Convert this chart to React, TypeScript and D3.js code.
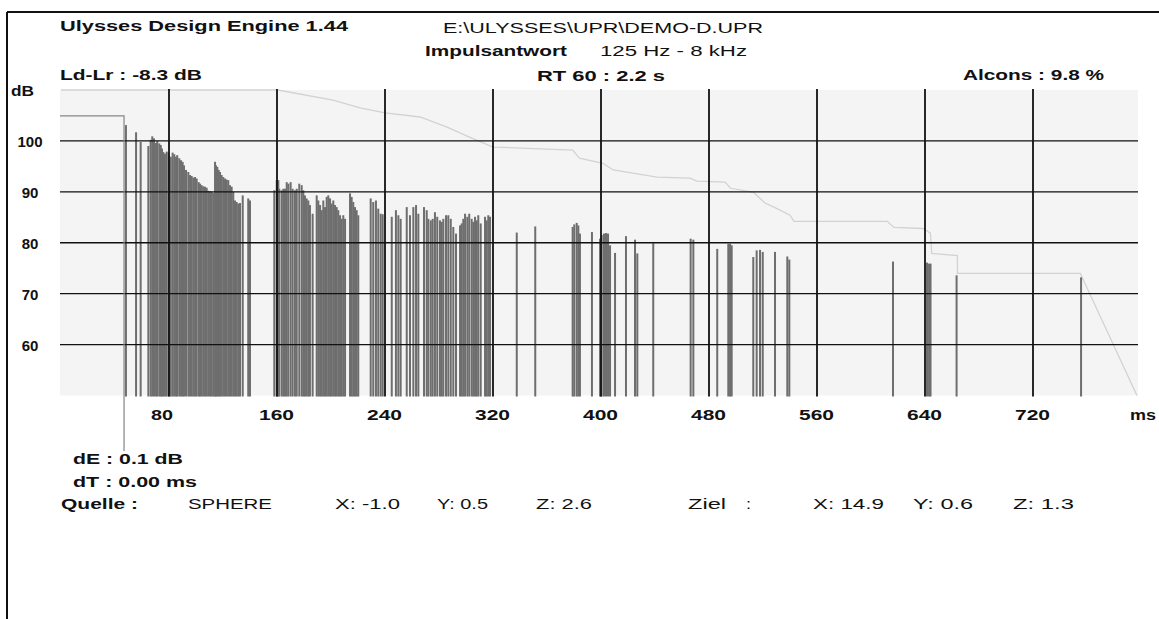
import React from 'react';
import * as d3 from 'd3';

// reflections, [time ms, level dB]
const directSound: [number, number][] = [[48.1, 103.1], [55.6, 101.7], [59.0, 99.8]];

const firstCluster: [number, number][] = [
  [64.7, 99.0], [66.4, 100.2], [67.6, 100.9], [68.9, 100.5], [70.4, 99.6], [71.3, 100.0],
  [72.8, 99.5], [73.9, 99.2], [74.8, 98.5], [75.8, 97.8], [77.0, 97.5], [78.3, 97.9],
  [79.8, 97.7], [81.3, 96.9], [82.7, 97.7], [83.9, 97.4], [85.2, 96.9], [86.1, 97.2],
  [87.6, 96.6], [88.9, 96.2], [90.1, 95.9], [91.1, 95.2], [92.6, 94.3], [94.3, 93.9],
  [95.6, 93.3], [96.8, 93.1], [98.0, 92.8], [99.3, 92.9], [100.5, 92.6], [102.0, 91.9],
  [103.0, 91.6], [104.2, 91.3], [105.4, 91.1], [106.7, 91.0], [107.9, 90.8], [109.1, 90.2],
  [110.4, 90.1], [111.6, 90.0], [112.8, 89.8], [114.1, 95.9], [114.8, 95.2], [115.8, 94.9],
  [116.8, 94.3], [117.8, 93.9], [119.0, 93.3], [120.2, 92.9], [121.5, 92.6], [122.7, 92.4],
  [123.9, 92.3], [125.2, 91.3], [126.4, 91.0], [127.6, 90.0], [128.9, 88.3], [130.1, 88.0],
  [131.3, 87.7], [132.6, 87.8], [134.6, 89.3], [138.7, 88.7], [140.0, 88.3],
];

const secondCluster: [number, number][] = [
  [158.0, 90.3], [159.8, 92.3], [161.0, 92.3], [161.7, 90.6], [163.5, 90.3], [164.7, 90.6],
  [165.9, 90.6], [167.2, 91.9], [168.4, 91.6], [170.1, 91.9], [171.6, 90.6], [173.3, 90.3],
  [174.6, 90.6], [176.5, 91.6], [178.3, 91.3], [179.5, 90.3], [180.7, 89.3], [182.0, 88.7],
  [183.2, 88.3], [184.4, 87.4], [186.4, 85.7], [189.4, 89.3], [190.6, 88.3], [191.9, 87.4],
  [193.1, 86.4], [194.3, 88.3], [195.6, 87.0], [196.8, 89.0], [198.0, 89.3], [199.3, 88.7],
  [200.5, 87.7], [201.7, 88.3], [203.0, 87.4], [204.2, 87.0], [205.4, 86.4], [206.7, 85.4],
  [207.9, 84.7], [209.1, 85.4], [210.4, 84.7], [214.1, 89.7], [215.3, 89.0], [216.5, 88.0],
  [217.8, 87.0], [219.0, 86.4], [220.2, 85.4],
];

const thirdCluster: [number, number][] = [
  [229.4, 88.7], [231.3, 88.0], [233.3, 88.3], [235.0, 86.7], [236.8, 85.7], [238.3, 85.6],
  [245.0, 85.1], [248.1, 86.4], [249.9, 85.4], [251.6, 84.7], [256.1, 87.0], [258.5, 85.4],
  [261.0, 87.0], [263.0, 87.4], [264.7, 85.7], [268.9, 87.0], [270.9, 86.4], [272.1, 84.7],
  [273.9, 84.4], [275.3, 84.7], [277.0, 86.0], [278.7, 85.1], [280.7, 84.4], [282.0, 84.1],
  [283.2, 84.7], [285.2, 85.4], [286.9, 85.4], [288.7, 84.7], [290.6, 83.1], [292.6, 81.8],
  [295.6, 83.4], [296.8, 83.8], [298.0, 84.7], [299.3, 85.7], [301.0, 85.1], [302.4, 85.7],
  [304.2, 84.7], [305.4, 84.1], [306.7, 85.1], [307.9, 84.4], [309.1, 85.4], [310.9, 83.8],
  [314.1, 85.1], [315.3, 84.4], [316.5, 85.4], [317.8, 85.1],
];

const lateReflections: [number, number][] = [
  [337.6, 82.0], [351.3, 83.2], [379.0, 83.1], [380.2, 83.6], [382.0, 83.9], [383.2, 83.4],
  [384.4, 81.8], [393.3, 82.1], [399.3, 80.8], [400.5, 81.5], [402.2, 81.8], [403.7, 81.9],
  [405.2, 81.8], [406.7, 79.5], [410.4, 78.0], [418.5, 81.3], [425.2, 80.6], [426.9, 77.9],
  [438.7, 79.9], [466.4, 80.8], [468.4, 80.6], [486.1, 78.8], [494.3, 79.8], [495.6, 79.8],
  [496.8, 79.5], [512.8, 77.2], [515.3, 78.5], [517.8, 78.6], [519.8, 78.2], [528.9, 78.2],
  [538.0, 77.3], [539.5, 76.7], [616.3, 76.3], [641.5, 76.1], [643.0, 75.9], [644.1, 75.9],
  [663.4, 73.6], [755.6, 73.2],
];

// integrated decay curve
const decayCurve: [number, number][] = [
  [0, 110], [160.7, 110], [201.5, 108], [221.5, 106.5], [240, 105.5], [266, 104.7],
  [286, 102.7], [303, 100.7], [320, 98.8], [379, 98.2], [384, 96.6], [401.5, 95.6],
  [409, 94.3], [441.5, 92.9], [466, 92.7], [471, 92.1], [492, 91.9], [496, 90.7],
  [513, 89.9], [521.5, 87.8], [529.6, 86.8], [540, 85.4], [543, 84.2], [612, 84.2],
  [617, 83.0], [638.5, 82.8], [644, 81.9], [645, 77.9], [664, 77.5], [664, 74.0],
  [755, 74.0], [797, 50],
];

const cursorMs = 46.7;
const cursorDb = 104.9;

const xTicks = [80, 160, 240, 320, 400, 480, 560, 640, 720];
const yTicks = [100, 90, 80, 70, 60];

const W = 1159;
const H = 619;
const font = '"Liberation Sans", Arial, sans-serif';

const x = d3.scaleLinear().domain([0, 800]).range([61, 1141]);
const y = d3.scaleLinear().domain([50, 110]).range([395.5, 90]);

const T: React.FC<{ x: number; y: number; w: number; bold?: boolean; children: string }> = ({ x, y, w, bold = true, children }) => (
  <text x={x} y={y} textLength={w} lengthAdjust="spacingAndGlyphs" fontFamily={font}
    fontSize={15} fontWeight={bold ? 'bold' : 'normal'} fill="#111">{children}</text>
);

const App: React.FC = () => {
  const bars = [...directSound, ...firstCluster, ...secondCluster, ...thirdCluster, ...lateReflections];
  const decay = d3.line<[number, number]>().x(d => x(d[0])).y(d => y(d[1]))(decayCurve) ?? '';
  const plotL = 60, plotR = 1138, plotT = y(110), plotB = y(50);

  return (
    <svg width={W} height={H} style={{ position: 'fixed', left: 0, top: 0, background: '#fff' }}>
      <line x1={7} y1={12} x2={W} y2={12} stroke="#111" strokeWidth={2} />
      <line x1={7} y1={12} x2={7} y2={H} stroke="#111" strokeWidth={2} />

      <T x={60} y={31} w={288}>Ulysses Design Engine 1.44</T>
      <T x={443} y={33} w={320} bold={false}>{'E:\\ULYSSES\\UPR\\DEMO-D.UPR'}</T>
      <T x={425} y={56} w={142}>Impulsantwort</T>
      <T x={600} y={56} w={147} bold={false}>125 Hz - 8 kHz</T>
      <T x={537} y={81} w={128}>RT 60 : 2.2 s</T>
      <T x={60} y={80} w={142}>Ld-Lr : -8.3 dB</T>
      <T x={963} y={80} w={141}>Alcons : 9.8 %</T>
      <T x={11} y={96} w={23}>dB</T>

      <rect x={plotL} y={plotT} width={plotR - plotL} height={plotB - plotT} fill="#f4f4f4" />

      <path d={decay} fill="none" stroke="#d2d2d2" strokeWidth={1.3} />

      {bars.map((d, i) => (
        <rect key={i} x={x(d[0]) - 1} y={y(d[1])} width={2} height={plotB + 1 - y(d[1])} fill="#6e6e6e" />
      ))}

      {yTicks.map(v => (
        <g key={v}>
          <line x1={plotL} x2={plotR} y1={y(v)} y2={y(v)} stroke="#111" strokeWidth={1.4} />
          <text x={30} y={y(v) + 6} textAnchor="middle" fontFamily={font} fontSize={15}
            fontWeight="bold" fill="#111">{v}</text>
        </g>
      ))}
      {xTicks.map(v => (
        <g key={v}>
          <line x1={x(v)} x2={x(v)} y1={plotT - 1} y2={plotB + 1} stroke="#111" strokeWidth={1.8} />
          <text x={x(v) - 18} y={420} fontFamily={font} fontSize={15} fontWeight="bold" fill="#111"
            textLength={v < 100 ? 22 : 35} lengthAdjust="spacingAndGlyphs">{v}</text>
        </g>
      ))}
      <T x={1130} y={420} w={26}>ms</T>

      <polyline points={`${plotL},${y(cursorDb)} ${x(cursorMs)},${y(cursorDb)} ${x(cursorMs)},451`}
        fill="none" stroke="#858585" strokeWidth={1.2} />

      <T x={73} y={464} w={110}>dE : 0.1 dB</T>
      <T x={73} y={487} w={124}>dT : 0.00 ms</T>
      <T x={61} y={509} w={77}>Quelle :</T>
      <T x={188} y={509} w={84} bold={false}>SPHERE</T>
      <T x={335} y={509} w={65} bold={false}>X: -1.0</T>
      <T x={437} y={509} w={51} bold={false}>Y: 0.5</T>
      <T x={536} y={509} w={56} bold={false}>Z: 2.6</T>
      <T x={688} y={509} w={38} bold={false}>Ziel</T>
      <T x={746} y={509} w={5} bold={false}>:</T>
      <T x={813} y={509} w={71} bold={false}>X: 14.9</T>
      <T x={913} y={509} w={60} bold={false}>Y: 0.6</T>
      <T x={1013} y={509} w={61} bold={false}>Z: 1.3</T>
    </svg>
  );
};

export default App;
